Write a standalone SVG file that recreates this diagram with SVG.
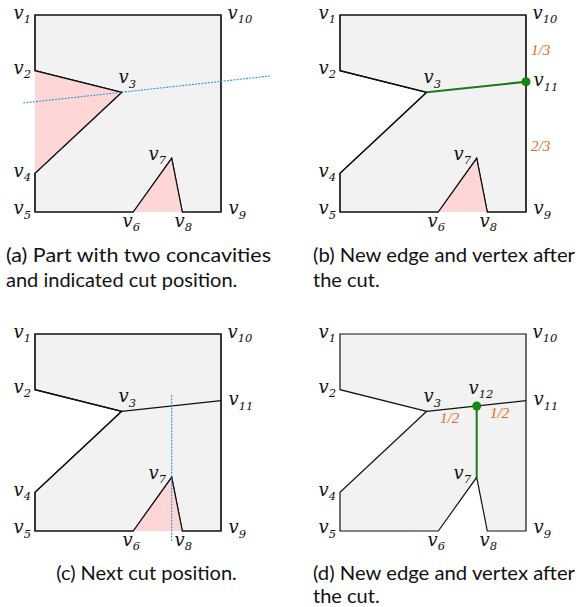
<svg xmlns="http://www.w3.org/2000/svg" width="586" height="607" viewBox="0 0 586 607">
<style>
.bg{fill:#ffffff}
.part{fill:#f2f2f2;stroke:#111;stroke-width:1.2;stroke-linejoin:miter}
.pink{fill:#ffd6d6;stroke:none}
.edge{stroke:#111;stroke-width:1.2;fill:none}
.newedge{stroke:#1b7a1b;stroke-width:2;fill:none}
.cut{stroke:#2a9ad6;stroke-width:1.1;stroke-dasharray:2,1.2;fill:none}
.dot{fill:#128a12}
.lbl{font-family:"DejaVu Serif","Liberation Serif",serif;font-style:italic;font-size:18px;fill:#111}
.sub{font-size:11.5px}
.frac{font-family:"Liberation Serif","DejaVu Serif",serif;font-style:italic;font-size:15px;fill:#e06a14}
.cap{font-family:Lato,"Open Sans",sans-serif;font-size:20px;fill:#111}
</style>
<defs>
<polygon id="poly" points="35,15 35,70.7 121.7,92.3 35,173.3 35,212 133.3,212 171.7,158.3 182.3,212 221,212 221,15"/>
<polygon id="tri1" points="35,70.7 121.7,92.3 35,173.3"/>
<polygon id="tri2" points="133.3,212 171.7,158.3 182.3,212"/>
<g id="labels">
<text class="lbl" x="13.5" y="18.5">v<tspan class="sub" dy="4.5">1</tspan></text>
<text class="lbl" x="227.5" y="18.5">v<tspan class="sub" dy="4.5">10</tspan></text>
<text class="lbl" x="13.5" y="73.5">v<tspan class="sub" dy="4.5">2</tspan></text>
<text class="lbl" x="118.5" y="83">v<tspan class="sub" dy="4.5">3</tspan></text>
<text class="lbl" x="13.5" y="176.5">v<tspan class="sub" dy="4.5">4</tspan></text>
<text class="lbl" x="13.5" y="214">v<tspan class="sub" dy="4.5">5</tspan></text>
<text class="lbl" x="122.5" y="226.5">v<tspan class="sub" dy="4.5">6</tspan></text>
<text class="lbl" x="148.5" y="159.5">v<tspan class="sub" dy="4.5">7</tspan></text>
<text class="lbl" x="174.5" y="226.5">v<tspan class="sub" dy="4.5">8</tspan></text>
<text class="lbl" x="228.5" y="214">v<tspan class="sub" dy="4.5">9</tspan></text>
</g>
</defs>
<rect class="bg" x="0" y="0" width="586" height="607"/>

<g id="panel-a">
<use href="#poly" class="part"/>
<use href="#tri1" class="pink"/>
<use href="#tri2" class="pink"/>
<use href="#poly" class="part" style="fill:none"/>
<g id="connectors-a"><line class="cut" x1="23.3" y1="103" x2="270" y2="76"/></g>
<use href="#labels"/>
</g>

<g id="panel-b" transform="translate(305,0)">
<use href="#poly" class="part"/>
<use href="#tri2" class="pink"/>
<use href="#poly" class="part" style="fill:none"/>
<g id="connectors-b"><line class="newedge" x1="121.7" y1="92.3" x2="221" y2="81.7"/></g>
<g id="v11-b"><circle class="dot" cx="221" cy="81.7" r="4.5"/>
<text class="lbl" x="228.5" y="86">v<tspan class="sub" dy="4.5">11</tspan></text></g>
<text class="frac" x="226" y="55">1/3</text>
<text class="frac" x="226" y="150.5">2/3</text>
<use href="#labels"/>
</g>

<g id="panel-c" transform="translate(0,319)">
<use href="#poly" class="part"/>
<use href="#tri2" class="pink"/>
<use href="#poly" class="part" style="fill:none"/>
<g id="connectors-c"><line class="edge" x1="121.7" y1="92.3" x2="221" y2="81.7"/>
<line class="cut" x1="171.7" y1="76" x2="171.7" y2="222.7"/></g>
<text class="lbl" x="228.5" y="86">v<tspan class="sub" dy="4.5">11</tspan></text>
<use href="#labels"/>
</g>

<g id="panel-d" transform="translate(305,319)">
<use href="#poly" class="part"/>
<g id="connectors-d"><line class="edge" x1="121.7" y1="92.3" x2="221" y2="81.7"/>
<line class="newedge" x1="171.7" y1="87" x2="171.7" y2="158.3"/></g>
<g id="v12-d"><circle class="dot" cx="171.7" cy="87" r="4.5"/>
<text class="lbl" x="163.5" y="74.5">v<tspan class="sub" dy="4.5">12</tspan></text></g>
<text class="lbl" x="228.5" y="86">v<tspan class="sub" dy="4.5">11</tspan></text>
<text class="frac" x="135" y="104">1/2</text>
<text class="frac" x="185" y="99">1/2</text>
<use href="#labels"/>
</g>

<g id="captions">
<text class="cap" x="6" y="262" textLength="265" lengthAdjust="spacingAndGlyphs">(a) Part with two concavities</text>
<text class="cap" x="6" y="287">and indicated cut position.</text>
<text class="cap" x="313" y="262" textLength="262" lengthAdjust="spacingAndGlyphs">(b) New edge and vertex after</text>
<text class="cap" x="313" y="287">the cut.</text>
<text class="cap" x="146.5" y="580" text-anchor="middle">(c) Next cut position.</text>
<text class="cap" x="313" y="580" textLength="262" lengthAdjust="spacingAndGlyphs">(d) New edge and vertex after</text>
<text class="cap" x="313" y="603">the cut.</text>
</g>
</svg>
